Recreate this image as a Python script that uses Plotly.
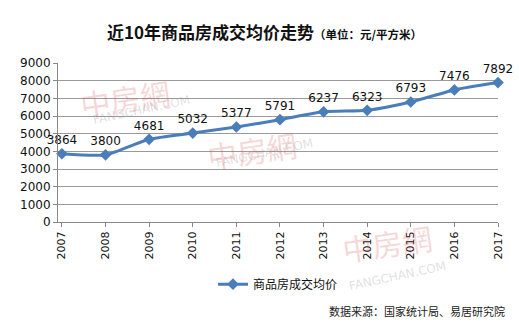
import plotly.graph_objects as go

# 近10年商品房成交均价（元/平方米）
years = [2007, 2008, 2009, 2010, 2011, 2012, 2013, 2014, 2015, 2016, 2017]
avg_price = [3864, 3800, 4681, 5032, 5377, 5791, 6237, 6323, 6793, 7476, 7892]
y_ticks = list(range(0, 9001, 1000))

series_name = "商品房成交均价"
line_color = "#4A7EBB"
cjk = "Noto Sans CJK SC"
num_font = "DejaVu Sans"

fig = go.Figure()
fig.add_trace(go.Scatter(
    x=years, y=avg_price, name=series_name,
    mode="lines+markers+text",
    line=dict(color=line_color, width=3, shape="spline", smoothing=0.6),
    marker=dict(symbol="diamond", size=9, color=line_color),
    text=[str(v) for v in avg_price], textposition="top center",
    textfont=dict(family=num_font, size=12, color="#111111"),
    cliponaxis=False,
))

# 水印
wm_color = "rgba(214,70,70,0.22)"
wm_sub = "rgba(150,150,150,0.30)"
for (x, y) in [(0.04, 0.97), (0.44, 0.45), (0.86, -0.32)]:
    fig.add_annotation(xref="paper", yref="paper", x=x, y=y, text="中房網",
                       showarrow=False, textangle=-8,
                       font=dict(family=cjk, size=30, color=wm_color))
    fig.add_annotation(xref="paper", yref="paper", x=x + 0.03, y=y - 0.14, text="FANGCHAN.COM",
                       showarrow=False, textangle=-12,
                       font=dict(family="DejaVu Sans", size=12, color=wm_sub))

fig.add_annotation(xref="paper", yref="paper", x=0.47, y=1.0, yshift=46, xanchor="center",
                   text="<b>近10年商品房成交均价走势</b><b><span style='font-size:11.5px'>（单位：元/平方米）</span></b>",
                   showarrow=False, font=dict(family=cjk, size=17, color="#111111"))
fig.add_annotation(xref="paper", yref="paper", x=1.02, y=-0.62, xanchor="right",
                   text="数据来源：国家统计局、易居研究院",
                   showarrow=False, font=dict(family=cjk, size=11, color="#222222"))

fig.update_layout(
    width=519, height=327,
    margin=dict(l=58, r=21, t=63, b=105),
    paper_bgcolor="white", plot_bgcolor="white",
    showlegend=True,
    legend=dict(orientation="h", x=0.5, xanchor="center", y=-0.30, yanchor="top",
                font=dict(family=cjk, size=12, color="#111111")),
    xaxis=dict(range=[2006.91, 2017.0], tickmode="array", tickvals=years,
               ticktext=[str(y) for y in years], tickangle=-90,
               showgrid=False, showline=True, linecolor="#888888",
               ticks="outside", ticklen=4, tickcolor="#888888",
               tickfont=dict(family=num_font, size=11, color="#111111")),
    yaxis=dict(range=[0, 9000], tickvals=y_ticks, showgrid=True, gridcolor="#9A9A9A",
               showline=True, linecolor="#888888", zeroline=False,
               ticks="outside", ticklen=4, tickcolor="#888888",
               tickfont=dict(family=num_font, size=12, color="#111111")),
)

fig.write_html("out.html")
